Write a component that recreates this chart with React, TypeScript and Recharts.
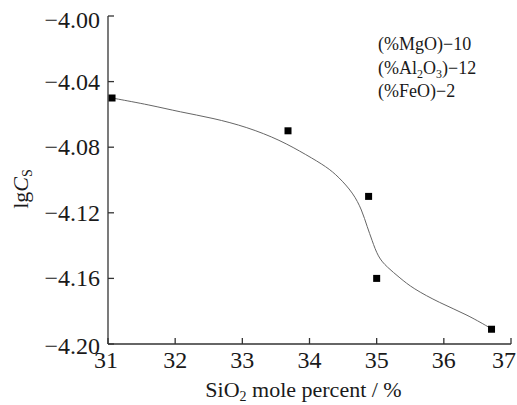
import {
  ComposedChart,
  Line,
  Scatter,
  XAxis,
  YAxis,
} from 'recharts'

// measured points
const pointX = [31.06, 33.68, 34.88, 35.0, 36.71]
const pointY = [-4.05, -4.07, -4.11, -4.16, -4.191]

// fitted curve
const curveX = [31.06, 31.63, 32.07, 32.56, 33.07, 33.56, 33.96, 34.26, 34.43, 34.65, 34.78, 34.86, 34.93, 35.02, 35.15, 35.35, 35.53, 35.94, 36.34, 36.68]
const curveY = [-4.05, -4.0543, -4.0585, -4.0622, -4.0677, -4.0756, -4.0848, -4.0921, -4.098, -4.1079, -4.1183, -4.1287, -4.1366, -4.147, -4.153, -4.1598, -4.1659, -4.175, -4.182, -4.19]

const xTicks = [31, 32, 33, 34, 35, 36, 37]
const yTicks = [-4.2, -4.16, -4.12, -4.08, -4.04, -4.0]

const points = pointX.map((x, i) => ({ x, y: pointY[i] }))
const curve = curveX.map((x, i) => ({ x, y: curveY[i] }))

const FONT = '"Liberation Serif", "Times New Roman", serif'
const AXIS = '#333'
const TEXT = '#1a1a1a'
const MINUS = '\u2212'

const fmtY = (v: number) => `${MINUS}${Math.abs(v).toFixed(2)}`

function XTick(props: any) {
  const { x, y, payload } = props
  // last label is pushed in a little so it stays on the page
  const shift = payload.value === 37 ? -5 : payload.value === 31 ? -2 : 0
  return (
    <text
      x={x + shift}
      y={y}
      dy={17}
      textAnchor="middle"
      style={{ fontFamily: FONT, fontSize: 24, fill: TEXT }}
    >
      {payload.value}
    </text>
  )
}

function YTick(props: any) {
  const { x, y, payload } = props
  const nudge = payload.value === -4.0 ? 4 : payload.value === -4.2 ? 2 : 0
  return (
    <text
      x={x}
      y={y + nudge}
      dy={8}
      textAnchor="end"
      style={{ fontFamily: FONT, fontSize: 24, fill: TEXT }}
    >
      {fmtY(payload.value)}
    </text>
  )
}

function Square(props: any) {
  const { cx, cy } = props
  if (cx == null || cy == null) return null
  return <rect x={cx - 3.5} y={cy - 3.5} width={7} height={7} fill="#000" />
}

export default function App() {
  return (
    <div style={{ position: 'absolute', left: 0, top: 0, width: 517, height: 405, background: '#fff' }}>
      <ComposedChart width={517} height={405} margin={{ top: 16, right: 6, bottom: 0, left: 0 }}>
        <XAxis
          dataKey="x"
          type="number"
          domain={[31, 37]}
          ticks={xTicks}
          allowDataOverflow
          height={61}
          stroke={AXIS}
          strokeWidth={1.3}
          tickSize={-6}
          tickMargin={13}
          tick={<XTick />}
          label={({ viewBox }: any) => (
            <text
              x={viewBox.x + viewBox.width / 2 - 6}
              y={viewBox.y + 53}
              textAnchor="middle"
              style={{ fontFamily: FONT, fontSize: 22, fill: TEXT }}
            >
              SiO<tspan fontSize={14} dy={4}>2</tspan>
              <tspan dy={-4}> mole percent / %</tspan>
            </text>
          )}
        />
        <XAxis
          xAxisId="top"
          orientation="top"
          type="number"
          domain={[31, 37]}
          height={0}
          tick={false}
          tickLine={false}
          stroke={AXIS}
          strokeWidth={1.3}
        />
        <YAxis
          dataKey="y"
          type="number"
          domain={[-4.2, -4.0]}
          ticks={yTicks}
          allowDataOverflow
          width={108}
          stroke={AXIS}
          strokeWidth={1.3}
          tickSize={-6}
          tickMargin={14}
          tick={<YTick />}
          label={({ viewBox }: any) => {
            const cx = 28
            const cy = viewBox.y + viewBox.height / 2 + 9
            return (
              <text
                x={cx}
                y={cy}
                transform={`rotate(-90 ${cx} ${cy})`}
                textAnchor="middle"
                style={{ fontFamily: FONT, fontSize: 22, fill: TEXT }}
              >
                lg<tspan fontStyle="italic">C</tspan>
                <tspan fontSize={14} dy={4}>S</tspan>
              </text>
            )
          }}
        />
        <YAxis
          yAxisId="right"
          orientation="right"
          type="number"
          domain={[-4.2, -4.0]}
          width={0}
          tick={false}
          tickLine={false}
          stroke={AXIS}
          strokeWidth={1.3}
        />
        <Line
          data={curve}
          dataKey="y"
          type="basis"
          stroke="#666"
          strokeWidth={1}
          dot={false}
          activeDot={false}
          isAnimationActive={false}
        />
        <Scatter data={points} dataKey="y" shape={<Square />} isAnimationActive={false} />
      </ComposedChart>
      <svg
        width={517}
        height={405}
        style={{ position: 'absolute', left: 0, top: 0, pointerEvents: 'none' }}
      >
        <g style={{ fontFamily: FONT, fontSize: 18, fill: TEXT }}>
          <text x={378} y={50}>{`(%MgO)${MINUS}10`}</text>
          <text x={378} y={74}>
            (%Al<tspan fontSize={12} dy={4}>2</tspan>
            <tspan dy={-4}>O</tspan>
            <tspan fontSize={12} dy={4}>3</tspan>
            <tspan dy={-4}>{`)${MINUS}12`}</tspan>
          </text>
          <text x={378} y={97}>{`(%FeO)${MINUS}2`}</text>
        </g>
      </svg>
    </div>
  )
}
